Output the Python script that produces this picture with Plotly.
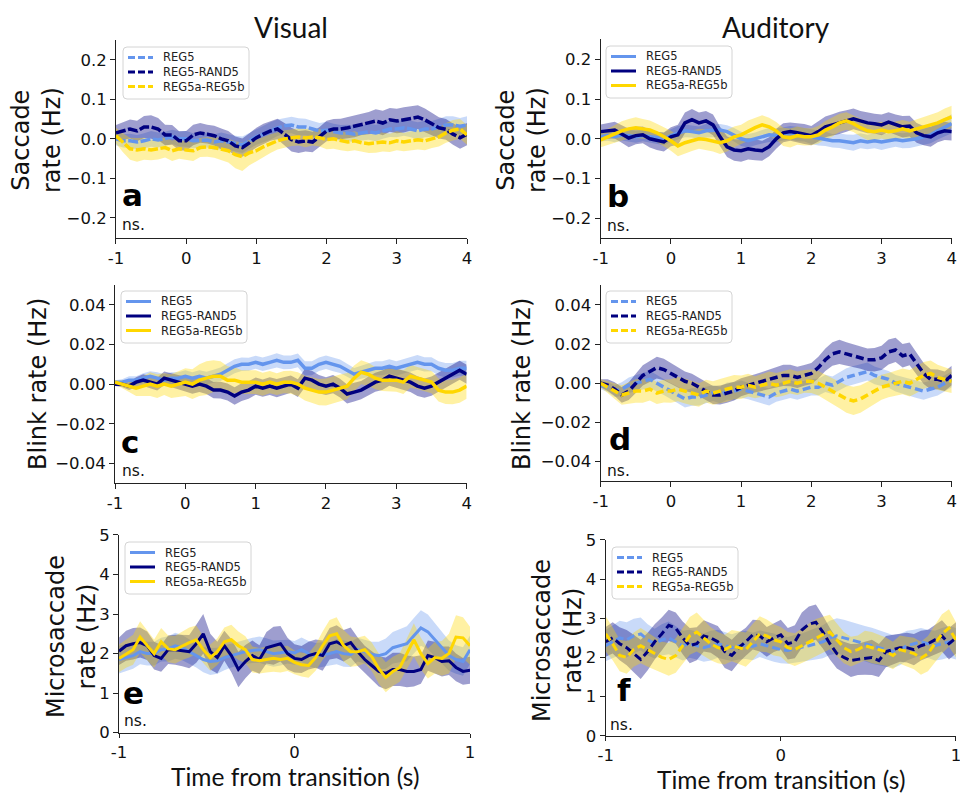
import plotly.graph_objects as go

# ---------------- time grids ----------------
t_long = [round(-1 + 0.1 * i, 2) for i in range(51)]    # -1 .. 4 s (saccade, blink)
t_short = [round(-1 + 0.04 * i, 2) for i in range(51)]  # -1 .. 1 s (microsaccade)

conditions = ["REG5", "REG5-RAND5", "REG5a-REG5b"]
colors = ["#6495ED", "#000080", "#FFD700"]
band_colors = ["rgba(100,149,237,0.35)", "rgba(0,0,128,0.38)", "rgba(255,215,0,0.36)"]

# ---------------- (a) saccade rate, visual ----------------
a_reg5 = [0.0, -0.005, -0.005, -0.008, -0.005, 0.0, -0.003, 0.0, 0.005, 0.0,
          0.0, -0.005, -0.005, -0.003, -0.008, -0.005, -0.008, -0.012, -0.015, -0.005,
          0.005, 0.012, 0.02, 0.028, 0.033, 0.035, 0.03, 0.03, 0.025, 0.02,
          0.022, 0.018, 0.015, 0.015, 0.012, 0.015, 0.018, 0.015, 0.02, 0.025,
          0.025, 0.028, 0.025, 0.02, 0.025, 0.025, 0.03, 0.035, 0.035, 0.032,
          0.035]
a_rand = [0.015, 0.02, 0.025, 0.02, 0.03, 0.03, 0.025, 0.01, 0.01, -0.005,
          -0.005, 0.01, 0.015, 0.012, 0.008, 0.0, -0.005, -0.018, -0.022, -0.01,
          0.003, 0.012, 0.02, 0.025, 0.012, -0.002, -0.008, -0.005, -0.008, 0.005,
          0.02, 0.025, 0.025, 0.028, 0.032, 0.037, 0.04, 0.045, 0.04, 0.048,
          0.045, 0.048, 0.052, 0.055, 0.048, 0.037, 0.028, 0.024, 0.012, 0.003,
          0.012]
a_ab = [0.008, -0.01, -0.025, -0.028, -0.025, -0.028, -0.025, -0.022, -0.03, -0.025,
        -0.028, -0.03, -0.022, -0.02, -0.022, -0.025, -0.03, -0.04, -0.045, -0.035,
        -0.03, -0.02, -0.012, -0.005, 0.0, 0.003, 0.005, 0.002, 0.005, 0.003,
        -0.002, 0.0, -0.005, -0.008, -0.005, -0.01, -0.012, -0.01, -0.008, -0.01,
        -0.005, -0.008, -0.005, -0.002, -0.005, 0.0, 0.005, 0.015, 0.022, 0.025,
        0.01]
a_reg5_se = [0.016, 0.017, 0.018, 0.018, 0.019, 0.02, 0.019, 0.018, 0.018, 0.019,
             0.02, 0.019, 0.018, 0.019, 0.02, 0.021, 0.02, 0.02, 0.021, 0.02,
             0.02, 0.021, 0.022, 0.021, 0.02, 0.021, 0.022, 0.021, 0.02, 0.02,
             0.021, 0.02, 0.02, 0.021, 0.02, 0.019, 0.02, 0.021, 0.02, 0.02,
             0.021, 0.02, 0.021, 0.022, 0.021, 0.02, 0.021, 0.022, 0.022, 0.021,
             0.022]
a_rand_se = [0.02, 0.022, 0.024, 0.026, 0.028, 0.03, 0.028, 0.026, 0.025, 0.024,
             0.025, 0.026, 0.025, 0.024, 0.025, 0.026, 0.025, 0.024, 0.023, 0.024,
             0.025, 0.026, 0.025, 0.026, 0.028, 0.03, 0.028, 0.027, 0.026, 0.025,
             0.026, 0.025, 0.026, 0.027, 0.028, 0.027, 0.028, 0.03, 0.031, 0.03,
             0.031, 0.032, 0.031, 0.03, 0.029, 0.028, 0.027, 0.026, 0.027, 0.028,
             0.028]
a_ab_se = [0.02, 0.024, 0.028, 0.03, 0.028, 0.026, 0.027, 0.025, 0.026, 0.025,
           0.025, 0.026, 0.024, 0.025, 0.026, 0.028, 0.03, 0.034, 0.036, 0.032,
           0.028, 0.026, 0.024, 0.022, 0.022, 0.021, 0.022, 0.023, 0.022, 0.022,
           0.024, 0.025, 0.024, 0.023, 0.024, 0.023, 0.024, 0.025, 0.024, 0.023,
           0.024, 0.023, 0.024, 0.025, 0.024, 0.023, 0.024, 0.025, 0.026, 0.025,
           0.025]

# ---------------- (b) saccade rate, auditory ----------------
b_reg5 = [0.005, 0.008, 0.005, 0.01, 0.008, 0.005, 0.008, 0.005, 0.002, 0.0,
          0.008, 0.015, 0.02, 0.018, 0.015, 0.02, 0.02, 0.022, 0.018, 0.01,
          0.0, -0.005, 0.0, 0.005, 0.01, 0.008, 0.012, 0.015, 0.012, 0.01,
          0.005, 0.002, 0.0, -0.005, -0.005, -0.008, -0.01, -0.005, -0.008, -0.005,
          -0.008, -0.005, -0.002, -0.005, -0.003, 0.0, 0.005, 0.01, 0.02, 0.03,
          0.038]
b_rand = [0.018, 0.02, 0.022, 0.012, 0.002, 0.008, 0.01, 0.0, -0.005, -0.008,
          0.005, 0.01, 0.04, 0.048, 0.04, 0.045, 0.035, 0.005, -0.02, -0.028,
          -0.03, -0.025, -0.028, -0.03, -0.02, 0.0, 0.015, 0.018, 0.015, 0.012,
          0.008, 0.018, 0.03, 0.035, 0.04, 0.045, 0.05, 0.045, 0.04, 0.038,
          0.035, 0.042, 0.035, 0.03, 0.032, 0.015, 0.008, 0.005, 0.015, 0.02,
          0.018]
b_ab = [-0.003, 0.005, 0.012, 0.02, 0.025, 0.028, 0.025, 0.022, 0.015, 0.005,
        -0.005, -0.018, -0.01, -0.005, 0.0, -0.002, -0.005, -0.01, -0.005, 0.005,
        0.01, 0.02, 0.028, 0.035, 0.03, 0.02, 0.005, 0.002, 0.008, 0.005,
        0.005, 0.01, 0.022, 0.03, 0.04, 0.045, 0.038, 0.028, 0.02, 0.018,
        0.022, 0.018, 0.02, 0.025, 0.02, 0.025, 0.03, 0.035, 0.04, 0.048,
        0.055]
b_reg5_se = [0.012, 0.013, 0.014, 0.014, 0.015, 0.015, 0.014, 0.014, 0.015, 0.016,
             0.016, 0.017, 0.016, 0.015, 0.016, 0.017, 0.016, 0.015, 0.016, 0.017,
             0.018, 0.017, 0.016, 0.017, 0.018, 0.017, 0.016, 0.017, 0.018, 0.017,
             0.018, 0.019, 0.018, 0.017, 0.018, 0.019, 0.02, 0.019, 0.018, 0.019,
             0.02, 0.019, 0.018, 0.019, 0.02, 0.019, 0.02, 0.021, 0.022, 0.023,
             0.024]
b_rand_se = [0.018, 0.02, 0.021, 0.022, 0.023, 0.022, 0.021, 0.022, 0.023, 0.024,
             0.024, 0.025, 0.026, 0.027, 0.026, 0.025, 0.026, 0.025, 0.026, 0.027,
             0.028, 0.027, 0.026, 0.025, 0.024, 0.025, 0.024, 0.023, 0.024, 0.025,
             0.024, 0.025, 0.026, 0.027, 0.028, 0.027, 0.026, 0.025, 0.026, 0.025,
             0.026, 0.025, 0.026, 0.027, 0.026, 0.025, 0.024, 0.025, 0.024, 0.023,
             0.022]
b_ab_se = [0.018, 0.02, 0.022, 0.024, 0.025, 0.026, 0.025, 0.024, 0.023, 0.024,
           0.025, 0.026, 0.027, 0.026, 0.025, 0.026, 0.027, 0.028, 0.027, 0.026,
           0.025, 0.026, 0.025, 0.024, 0.023, 0.022, 0.023, 0.024, 0.023, 0.022,
           0.021, 0.022, 0.023, 0.024, 0.023, 0.022, 0.021, 0.022, 0.023, 0.022,
           0.021, 0.022, 0.023, 0.022, 0.023, 0.024, 0.025, 0.026, 0.027, 0.028,
           0.028]

# ---------------- (c) blink rate, visual ----------------
c_reg5 = [0.001, 0.001, 0.002, 0.002, 0.003, 0.004, 0.003, 0.002, 0.003, 0.003,
          0.004, 0.003, 0.004, 0.003, 0.004, 0.005, 0.007, 0.009, 0.01, 0.01,
          0.011, 0.01, 0.011, 0.012, 0.011, 0.011, 0.012, 0.008, 0.008, 0.01,
          0.011, 0.01, 0.009, 0.007, 0.005, 0.006, 0.007, 0.008, 0.008, 0.009,
          0.008, 0.009, 0.01, 0.011, 0.01, 0.01, 0.008, 0.007, 0.007, 0.008,
          0.008]
c_rand = [0.0, 0.0, -0.001, 0.001, 0.002, 0.001, 0.0, 0.003, 0.002, 0.001,
          0.0, -0.001, 0.0, -0.001, -0.003, -0.003, -0.004, -0.006, -0.004, -0.003,
          -0.001, -0.002, -0.001, -0.002, -0.001, 0.0, -0.002, 0.003, 0.002, 0.0,
          -0.001, 0.0, -0.002, -0.005, -0.004, -0.003, -0.001, 0.001, 0.002, 0.004,
          0.003, 0.002, 0.001, -0.001, -0.002, -0.001, 0.001, 0.003, 0.005, 0.007,
          0.005]
c_ab = [0.001, 0.0, -0.001, -0.002, -0.001, 0.0, -0.001, 0.0, -0.001, 0.0,
        0.001, 0.0, 0.002, 0.003, 0.004, 0.004, 0.002, 0.002, 0.001, 0.001,
        0.001, 0.0, 0.001, 0.0, 0.001, 0.001, 0.0, -0.002, -0.003, -0.004,
        -0.004, -0.003, -0.002, -0.001, 0.003, 0.006, 0.005, 0.003, 0.002, 0.002,
        0.002, 0.001, 0.004, 0.003, 0.002, 0.001, -0.003, -0.004, -0.004, -0.003,
        -0.001]
c_reg5_se = [0.001, 0.0015, 0.002, 0.002, 0.0025, 0.0025, 0.003, 0.003, 0.003, 0.003,
             0.003, 0.003, 0.003, 0.0032, 0.0033, 0.0034, 0.0035, 0.0035, 0.0034, 0.0033,
             0.0033, 0.0034, 0.0035, 0.0036, 0.0035, 0.0034, 0.0035, 0.0036, 0.0035, 0.0034,
             0.0034, 0.0035, 0.0034, 0.0033, 0.0032, 0.0033, 0.0034, 0.0035, 0.0035, 0.0036,
             0.0036, 0.0037, 0.0038, 0.0037, 0.0036, 0.0035, 0.0036, 0.0037, 0.0037, 0.0038,
             0.0038]
c_rand_se = [0.001, 0.0015, 0.002, 0.0025, 0.003, 0.003, 0.0032, 0.0034, 0.0035, 0.0036,
             0.0037, 0.0038, 0.0039, 0.004, 0.0041, 0.0042, 0.0043, 0.0044, 0.0045, 0.0044,
             0.0043, 0.0044, 0.0045, 0.0046, 0.0045, 0.0044, 0.0045, 0.0046, 0.0047, 0.0046,
             0.0045, 0.0046, 0.0047, 0.0048, 0.0047, 0.0046, 0.0047, 0.0048, 0.0049, 0.0048,
             0.0047, 0.0048, 0.0049, 0.005, 0.0049, 0.0048, 0.0049, 0.005, 0.0049, 0.0048,
             0.0048]
c_ab_se = [0.001, 0.002, 0.003, 0.004, 0.005, 0.006, 0.006, 0.0055, 0.006, 0.0065,
           0.007, 0.0075, 0.008, 0.0085, 0.008, 0.0075, 0.007, 0.0065, 0.006, 0.006,
           0.006, 0.0058, 0.0056, 0.0055, 0.0056, 0.0058, 0.006, 0.0062, 0.0064, 0.0066,
           0.0068, 0.007, 0.0068, 0.0066, 0.0064, 0.006, 0.0058, 0.0056, 0.0055, 0.0056,
           0.0058, 0.006, 0.0058, 0.0056, 0.0055, 0.0056, 0.0058, 0.006, 0.0062, 0.0064,
           0.0064]

# ---------------- (d) blink rate, auditory ----------------
d_reg5 = [-0.001, -0.002, -0.004, -0.003, -0.001, 0.0, 0.001, 0.002, 0.0, -0.002,
          -0.004, -0.006, -0.008, -0.007, -0.007, -0.006, -0.005, -0.006, -0.004, -0.004,
          -0.003, -0.004, -0.005, -0.006, -0.007, -0.005, -0.004, -0.003, -0.004, -0.003,
          -0.002, -0.002, 0.0, -0.001, 0.001, 0.003, 0.004, 0.005, 0.006, 0.004,
          0.003, 0.002, 0.0, -0.001, -0.002, -0.003, -0.004, -0.003, -0.002, 0.0,
          0.002]
d_rand = [0.0, -0.001, -0.003, -0.006, -0.004, 0.0, 0.004, 0.006, 0.008, 0.007,
          0.005, 0.003, 0.001, 0.0, -0.002, -0.004, -0.006, -0.006, -0.005, -0.004,
          -0.002, -0.001, 0.0, 0.001, 0.002, 0.003, 0.004, 0.004, 0.003, 0.004,
          0.005, 0.008, 0.012, 0.015, 0.016, 0.015, 0.014, 0.013, 0.012, 0.012,
          0.013, 0.016, 0.017, 0.014, 0.015, 0.01, 0.005, 0.002, 0.002, 0.001,
          0.004]
d_ab = [0.0, -0.002, -0.004, -0.006, -0.005, -0.004, -0.004, -0.003, -0.005, -0.004,
        -0.004, -0.003, -0.004, -0.005, -0.006, -0.004, -0.005, -0.004, -0.003, -0.002,
        -0.002, -0.001, -0.002, -0.001, 0.0, -0.001, 0.0, 0.001, 0.0, 0.001,
        0.001, 0.0, -0.002, -0.004, -0.006, -0.008, -0.009, -0.008, -0.006, -0.004,
        -0.002, -0.001, 0.0, 0.001, 0.0, 0.002, 0.004, 0.005, 0.003, 0.002,
        0.001]
d_reg5_se = [0.002, 0.0025, 0.003, 0.0035, 0.004, 0.004, 0.0042, 0.0044, 0.0042, 0.004,
             0.004, 0.0042, 0.0044, 0.0045, 0.0044, 0.0042, 0.004, 0.0042, 0.0044, 0.0045,
             0.0044, 0.0042, 0.004, 0.0042, 0.0044, 0.0045, 0.0046, 0.0045, 0.0044, 0.0043,
             0.0042, 0.0043, 0.0044, 0.0045, 0.0046, 0.0047, 0.0048, 0.0047, 0.0046, 0.0045,
             0.0044, 0.0043, 0.0042, 0.0043, 0.0044, 0.0045, 0.0044, 0.0043, 0.0042, 0.0041,
             0.004]
d_rand_se = [0.002, 0.003, 0.0035, 0.004, 0.0045, 0.005, 0.0052, 0.0054, 0.0056, 0.0055,
             0.0054, 0.0052, 0.005, 0.0048, 0.0046, 0.0045, 0.0046, 0.0048, 0.005, 0.0048,
             0.0046, 0.0045, 0.0046, 0.0048, 0.005, 0.0052, 0.0054, 0.0055, 0.0054, 0.0053,
             0.0054, 0.0056, 0.0058, 0.006, 0.0062, 0.006, 0.0058, 0.0056, 0.0058, 0.006,
             0.0062, 0.0064, 0.0062, 0.006, 0.0058, 0.0056, 0.0054, 0.0052, 0.005, 0.005,
             0.005]
d_ab_se = [0.002, 0.003, 0.004, 0.005, 0.0055, 0.006, 0.006, 0.0058, 0.0056, 0.0058,
           0.006, 0.0062, 0.0064, 0.0062, 0.006, 0.0058, 0.006, 0.0062, 0.0064, 0.0062,
           0.006, 0.0058, 0.0056, 0.0058, 0.006, 0.0062, 0.0064, 0.0062, 0.006, 0.0058,
           0.006, 0.0062, 0.0064, 0.0066, 0.0068, 0.007, 0.0072, 0.007, 0.0068, 0.0066,
           0.0064, 0.0062, 0.0064, 0.0066, 0.0068, 0.007, 0.0068, 0.0066, 0.0064, 0.0062,
           0.006]

# ---------------- (e) microsaccade rate, visual ----------------
e_reg5 = [1.85, 1.9, 1.95, 2.05, 2.0, 2.0, 2.1, 2.12, 2.2, 2.15,
          2.05, 1.95, 1.85, 1.8, 1.82, 1.9, 1.95, 2.0, 2.05, 2.08,
          2.1, 2.05, 2.0, 2.02, 2.05, 2.02, 2.1, 2.0, 1.95, 1.98,
          2.0, 2.05, 2.0, 1.98, 2.1, 2.05, 1.98, 1.95, 2.0, 2.15,
          2.2, 2.25, 2.45, 2.65, 2.55, 2.35, 2.15, 1.95, 1.85, 1.8,
          2.1]
e_rand = [2.06, 2.2, 2.25, 2.28, 2.2, 1.95, 1.88, 2.1, 2.1, 2.08,
          2.05, 2.25, 2.5, 2.05, 1.9, 2.2, 1.95, 1.6, 1.8, 1.95,
          1.85, 2.15, 2.2, 2.25, 2.0, 1.88, 1.85, 1.95, 2.0, 1.95,
          2.25, 2.3, 2.2, 2.28, 2.05, 1.85, 1.7, 1.55, 1.5, 1.6,
          1.6, 1.55, 1.55, 1.6, 1.95, 1.9, 1.8, 1.82, 1.65, 1.55,
          1.58]
e_ab = [1.88, 2.0, 2.1, 2.42, 2.2, 2.0, 2.3, 2.12, 2.1, 2.2,
        2.28, 2.35, 2.1, 1.9, 2.05, 2.3, 2.35, 2.2, 2.1, 1.85,
        1.82, 1.85, 1.88, 1.85, 1.88, 1.78, 1.72, 1.7, 1.9, 2.2,
        2.45, 2.5, 2.2, 2.05, 2.05, 2.1, 1.92, 1.62, 1.4, 1.55,
        1.65, 2.0, 2.35, 2.0, 1.75, 1.9, 1.88, 2.0, 2.42, 2.4,
        2.2]
e_reg5_se = [0.35, 0.34, 0.33, 0.32, 0.3, 0.3, 0.3, 0.32, 0.33, 0.32,
             0.3, 0.3, 0.32, 0.34, 0.33, 0.32, 0.3, 0.3, 0.31, 0.32,
             0.33, 0.34, 0.33, 0.32, 0.3, 0.3, 0.31, 0.32, 0.32, 0.31,
             0.3, 0.32, 0.33, 0.32, 0.3, 0.3, 0.32, 0.35, 0.38, 0.4,
             0.42, 0.44, 0.45, 0.45, 0.44, 0.42, 0.4, 0.38, 0.36, 0.36,
             0.36]
e_rand_se = [0.35, 0.38, 0.4, 0.38, 0.36, 0.35, 0.34, 0.36, 0.38, 0.4,
             0.42, 0.48, 0.5, 0.45, 0.4, 0.38, 0.42, 0.45, 0.42, 0.38,
             0.36, 0.4, 0.48, 0.45, 0.4, 0.36, 0.34, 0.35, 0.36, 0.38,
             0.4, 0.42, 0.4, 0.38, 0.36, 0.35, 0.36, 0.38, 0.4, 0.42,
             0.42, 0.4, 0.38, 0.36, 0.38, 0.4, 0.38, 0.36, 0.35, 0.34,
             0.34]
e_ab_se = [0.35, 0.36, 0.38, 0.4, 0.38, 0.36, 0.35, 0.34, 0.35, 0.36,
           0.38, 0.36, 0.34, 0.33, 0.34, 0.36, 0.38, 0.36, 0.34, 0.33,
           0.32, 0.33, 0.34, 0.33, 0.32, 0.3, 0.3, 0.31, 0.33, 0.36,
           0.4, 0.42, 0.4, 0.38, 0.36, 0.35, 0.36, 0.38, 0.38, 0.37,
           0.36, 0.38, 0.42, 0.4, 0.38, 0.4, 0.44, 0.5, 0.55, 0.52,
           0.48]

# ---------------- (f) microsaccade rate, auditory ----------------
f_reg5 = [2.3, 2.4, 2.5, 2.45, 2.55, 2.6, 2.45, 2.35, 2.45, 2.5,
          2.4, 2.3, 2.35, 2.3, 2.25, 2.3, 2.35, 2.3, 2.25, 2.3,
          2.32, 2.28, 2.35, 2.3, 2.25, 2.2, 2.18, 2.22, 2.25, 2.3,
          2.35, 2.4, 2.5, 2.55, 2.5, 2.45, 2.4, 2.35, 2.3, 2.25,
          2.2, 2.15, 2.2, 2.3, 2.35, 2.4, 2.35, 2.3, 2.35, 2.4,
          2.35]
f_rand = [2.4, 2.5, 2.35, 2.25, 2.1, 1.95, 2.15, 2.4, 2.6, 2.82,
          2.75, 2.5, 2.3, 2.35, 2.55, 2.5, 2.4, 2.15, 2.05, 2.25,
          2.4, 2.58, 2.55, 2.4, 2.5, 2.58, 2.35, 2.4, 2.7, 2.85,
          2.9, 2.65, 2.35, 2.1, 2.0, 1.92, 1.95, 1.98, 2.0, 1.92,
          2.15, 2.2, 2.25, 2.25, 2.2, 2.3, 2.35, 2.45, 2.55, 2.35,
          2.5]
f_ab = [2.6, 2.35, 2.05, 2.0, 2.2, 2.3, 2.2, 2.1, 2.0, 1.95,
        2.05, 2.3, 2.55, 2.65, 2.5, 2.35, 2.25, 2.2, 2.3, 2.25,
        2.2, 2.4, 2.6, 2.55, 2.45, 2.4, 2.25, 2.2, 2.3, 2.4,
        2.5, 2.58, 2.65, 2.45, 2.25, 2.15, 2.2, 2.3, 2.25, 2.2,
        2.15, 2.05, 2.2, 2.15, 2.1, 1.98, 2.1, 2.35, 2.6, 2.75,
        2.45]
f_reg5_se = [0.4, 0.42, 0.44, 0.45, 0.44, 0.42, 0.4, 0.38, 0.4, 0.42,
             0.4, 0.38, 0.36, 0.35, 0.36, 0.38, 0.36, 0.35, 0.34, 0.35,
             0.36, 0.35, 0.34, 0.35, 0.36, 0.35, 0.34, 0.35, 0.36, 0.38,
             0.4, 0.42, 0.44, 0.45, 0.46, 0.45, 0.44, 0.45, 0.46, 0.45,
             0.44, 0.42, 0.4, 0.38, 0.36, 0.35, 0.36, 0.38, 0.4, 0.4,
             0.4]
f_rand_se = [0.38, 0.4, 0.42, 0.45, 0.48, 0.5, 0.48, 0.45, 0.42, 0.4,
             0.4, 0.42, 0.45, 0.42, 0.4, 0.38, 0.4, 0.42, 0.4, 0.38,
             0.36, 0.38, 0.4, 0.38, 0.36, 0.38, 0.4, 0.42, 0.45, 0.45,
             0.45, 0.42, 0.4, 0.38, 0.4, 0.42, 0.4, 0.42, 0.45, 0.42,
             0.4, 0.38, 0.36, 0.38, 0.4, 0.38, 0.36, 0.38, 0.4, 0.4,
             0.4]
f_ab_se = [0.45, 0.42, 0.4, 0.42, 0.44, 0.45, 0.44, 0.42, 0.4, 0.42,
           0.44, 0.45, 0.48, 0.5, 0.46, 0.42, 0.4, 0.38, 0.4, 0.42,
           0.44, 0.46, 0.45, 0.42, 0.4, 0.38, 0.4, 0.42, 0.44, 0.46,
           0.48, 0.46, 0.44, 0.42, 0.4, 0.38, 0.36, 0.38, 0.4, 0.38,
           0.36, 0.35, 0.36, 0.38, 0.4, 0.42, 0.45, 0.48, 0.5, 0.48,
           0.45]

# ---------------- panel definitions ----------------
SACC_TICKTEXT = ["\u22120.2", "\u22120.1", "0.0", "0.1", "0.2"]
BLINK_TICKTEXT = ["\u22120.04", "\u22120.02", "0.00", "0.02", "0.04"]

panels = [
    dict(key="a", t=t_long, means=[a_reg5, a_rand, a_ab], ses=[a_reg5_se, a_rand_se, a_ab_se],
         dash="10px,2.5px", legdash="7px,3px", width=3.5, xticklen=5,
         xdom=[0.1208, 0.4865], ydom=[0.7006, 0.9496],
         yrange=[-0.25, 0.25], yticks=[-0.2, -0.1, 0.0, 0.1, 0.2], yticktext=SACC_TICKTEXT,
         xrange=[-1, 4], xticks=[-1, 0, 1, 2, 3, 4], legend_box=(123, 47)),
    dict(key="b", t=t_long, means=[b_reg5, b_rand, b_ab], ses=[b_reg5_se, b_rand_se, b_ab_se],
         dash="solid", legdash="solid", width=3.5, xticklen=5,
         xdom=[0.6257, 0.9914], ydom=[0.7000, 0.9504],
         yrange=[-0.25, 0.25], yticks=[-0.2, -0.1, 0.0, 0.1, 0.2], yticktext=SACC_TICKTEXT,
         xrange=[-1, 4], xticks=[-1, 0, 1, 2, 3, 4], legend_box=(606, 46)),
    dict(key="c", t=t_long, means=[c_reg5, c_rand, c_ab], ses=[c_reg5_se, c_rand_se, c_ab_se],
         dash="solid", legdash="solid", width=3.5, xticklen=5,
         xdom=[0.1198, 0.4861], ydom=[0.3913, 0.6411],
         yrange=[-0.05, 0.05], yticks=[-0.04, -0.02, 0.0, 0.02, 0.04], yticktext=BLINK_TICKTEXT,
         xrange=[-1, 4], xticks=[-1, 0, 1, 2, 3, 4], legend_box=(121, 291)),
    dict(key="d", t=t_long, means=[d_reg5, d_rand, d_ab], ses=[d_reg5_se, d_rand_se, d_ab_se],
         dash="8px,4px", legdash="7px,3px", width=3.5, xticklen=5,
         xdom=[0.6257, 0.9914], ydom=[0.3940, 0.6406],
         yrange=[-0.05, 0.05], yticks=[-0.04, -0.02, 0.0, 0.02, 0.04], yticktext=BLINK_TICKTEXT,
         xrange=[-1, 4], xticks=[-1, 0, 1, 2, 3, 4], legend_box=(606, 291)),
    dict(key="e", t=t_short, means=[e_reg5, e_rand, e_ab], ses=[e_reg5_se, e_rand_se, e_ab_se],
         dash="solid", legdash="solid", width=3, xticklen=4,
         xdom=[0.1240, 0.4896], ydom=[0.0772, 0.3262],
         yrange=[0, 5], yticks=[0, 1, 2, 3, 4, 5], yticktext=["0", "1", "2", "3", "4", "5"],
         xrange=[-1, 1], xticks=[-1, 0, 1], legend_box=(125, 542)),
    dict(key="f", t=t_short, means=[f_reg5, f_rand, f_ab], ses=[f_reg5_se, f_rand_se, f_ab_se],
         dash="8px,4px", legdash="7px,3px", width=3, xticklen=4,
         xdom=[0.6309, 0.9958], ydom=[0.0734, 0.3199],
         yrange=[0, 5], yticks=[0, 1, 2, 3, 4, 5], yticktext=["0", "1", "2", "3", "4", "5"],
         xrange=[-1, 1], xticks=[-1, 0, 1], legend_box=(612, 547)),
]


def px(x):
    return x / 960.0


def py(y):
    return 1 - y / 794.0


fig = go.Figure()
layout = dict(
    width=960, height=794, autosize=False,
    margin=dict(l=0, r=0, t=0, b=0),
    paper_bgcolor="white", plot_bgcolor="white",
    font=dict(family="DejaVu Sans", color="#111111"),
    showlegend=False,
)
shapes = []
legend_texts = []

for i, p in enumerate(panels):
    n = i + 1
    xa = "x" if n == 1 else f"x{n}"
    ya = "y" if n == 1 else f"y{n}"
    t = p["t"]
    for m, se in zip(p["means"], p["ses"]):
        if len(m) != len(t) or len(se) != len(t):
            raise ValueError(f"panel {p['key']}: series length mismatch")
    # shaded standard-error bands first
    for k in range(3):
        m, se = p["means"][k], p["ses"][k]
        upper = [v + s for v, s in zip(m, se)]
        lower = [v - s for v, s in zip(m, se)]
        fig.add_trace(go.Scatter(
            x=t + t[::-1], y=upper + lower[::-1],
            fill="toself", fillcolor=band_colors[k],
            line=dict(width=0, color="rgba(0,0,0,0)"),
            mode="lines", hoverinfo="skip", showlegend=False,
            xaxis=xa, yaxis=ya,
        ))
    # mean traces on top
    for k in range(3):
        fig.add_trace(go.Scatter(
            x=t, y=p["means"][k], mode="lines", name=conditions[k],
            line=dict(color=colors[k], width=p["width"], dash=p["dash"]),
            xaxis=xa, yaxis=ya, showlegend=False,
        ))

    axis_common = dict(showline=True, linecolor="#222222", linewidth=1,
                       ticks="outside", ticklen=5, tickwidth=1, tickcolor="#222222",
                       showgrid=False, zeroline=False, automargin=False,
                       ticklabeloverflow="allow",
                       tickfont=dict(family="DejaVu Sans", size=16.5, color="#111111"))
    xkey = "xaxis" if n == 1 else f"xaxis{n}"
    ykey = "yaxis" if n == 1 else f"yaxis{n}"
    layout[xkey] = dict(axis_common, domain=p["xdom"], range=p["xrange"], anchor=ya,
                        ticklen=p["xticklen"],
                        tickmode="array", tickvals=p["xticks"],
                        ticktext=[str(v) for v in p["xticks"]])
    layout[ykey] = dict(axis_common, domain=p["ydom"], range=p["yrange"], anchor=xa,
                        tickmode="array", tickvals=p["yticks"], ticktext=p["yticktext"])

    # legend box: rounded frame, line handles and labels
    bx, by = p["legend_box"]
    bw, bh, r = 126, 52, 4
    x0, x1, y0, y1 = px(bx), px(bx + bw), py(by), py(by + bh)
    rx, ry = px(r), r / 794.0
    path = (f"M{x0 + rx},{y0} L{x1 - rx},{y0} Q{x1},{y0} {x1},{y0 - ry} "
            f"L{x1},{y1 + ry} Q{x1},{y1} {x1 - rx},{y1} L{x0 + rx},{y1} "
            f"Q{x0},{y1} {x0},{y1 + ry} L{x0},{y0 - ry} Q{x0},{y0} {x0 + rx},{y0} Z")
    shapes.append(dict(type="path", path=path, xref="paper", yref="paper",
                       fillcolor="rgba(255,255,255,0.85)",
                       line=dict(color="#d4d4d4", width=1), layer="above"))
    for k in range(3):
        ry_k = by + 10.5 + 14.5 * k
        shapes.append(dict(type="line", xref="paper", yref="paper",
                           x0=px(bx + 5), x1=px(bx + 30), y0=py(ry_k), y1=py(ry_k),
                           line=dict(color=colors[k], width=3, dash=p["legdash"]),
                           layer="above"))
        legend_texts.append(dict(text=conditions[k], x=px(bx + 38), y=py(ry_k),
                                 xref="paper", yref="paper", showarrow=False,
                                 xanchor="left", yanchor="middle",
                                 font=dict(family="DejaVu Sans", size=11.5, color="#222222")))

layout["shapes"] = shapes
fig.update_layout(**layout)
for a in legend_texts:
    fig.add_annotation(**a)

# ---------------- text: column titles, axis titles, panel letters ----------------
title_font = dict(family="Lato", size=28, color="#111111")
fig.add_annotation(text="Visual", x=px(291), y=py(27), xref="paper", yref="paper",
                   showarrow=False, font=title_font, xanchor="center", yanchor="middle")
fig.add_annotation(text="Auditory", x=px(776), y=py(27), xref="paper", yref="paper",
                   showarrow=False, font=title_font, xanchor="center", yanchor="middle")

xlab_font = dict(family="Lato", size=24.5, color="#111111")
fig.add_annotation(text="Time from transition (s)", x=px(295), y=py(776), xref="paper",
                   yref="paper", showarrow=False, font=xlab_font,
                   xanchor="center", yanchor="middle")
fig.add_annotation(text="Time from transition (s)", x=px(781), y=py(779), xref="paper",
                   yref="paper", showarrow=False, font=xlab_font,
                   xanchor="center", yanchor="middle")

ylab_font = dict(family="DejaVu Sans", size=24, color="#111111")
ytitles = [("Saccade<br>rate (Hz)", 37, 140), ("Saccade<br>rate (Hz)", 522, 140),
           ("Blink rate (Hz)", 38, 384), ("Blink rate (Hz)", 522, 384),
           ("Microsaccade<br>rate (Hz)", 71, 637), ("Microsaccade<br>rate (Hz)", 557, 641)]
for text, x, y in ytitles:
    fig.add_annotation(text=text, x=px(x), y=py(y), xref="paper", yref="paper",
                       showarrow=False, font=ylab_font, textangle=-90,
                       xanchor="center", yanchor="middle", align="center")

letter_font = dict(family="DejaVu Sans", size=31, color="#000000", weight="bold")
ns_font = dict(family="DejaVu Sans", size=15.5, color="#111111")
letters = [("a", 132, 195, 133, 225), ("b", 618, 196, 618, 226),
           ("c", 130, 442, 133, 471), ("d", 620, 439, 618, 471),
           ("e", 133, 693, 135, 721), ("f", 624, 690, 621, 725)]
for ch, lx, ly, nx, ny in letters:
    fig.add_annotation(text=f"<b>{ch}</b>", x=px(lx), y=py(ly), xref="paper", yref="paper",
                       showarrow=False, font=letter_font, xanchor="center", yanchor="middle")
    fig.add_annotation(text="ns.", x=px(nx), y=py(ny), xref="paper", yref="paper",
                       showarrow=False, font=ns_font, xanchor="center", yanchor="middle")

fig.write_html("out.html")
